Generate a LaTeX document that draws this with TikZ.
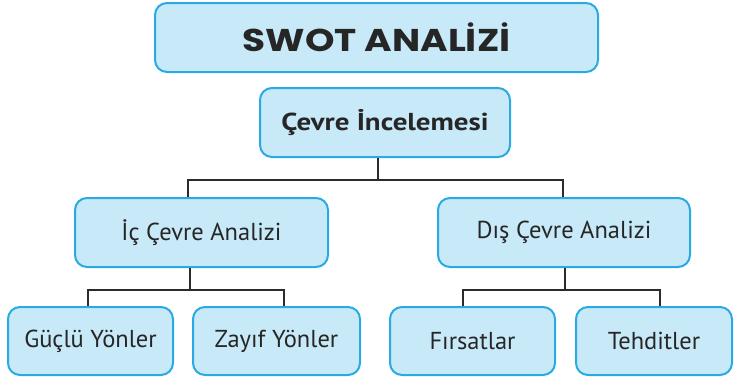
\documentclass[tikz,border=0pt]{standalone}
\usepackage{fontspec}
\setmainfont{PT Sans}
\newfontfamily\titlefont{Poppins}
\definecolor{boxfill}{HTML}{C7E9F8}
\definecolor{boxline}{HTML}{2AAAE2}
\definecolor{linkcol}{HTML}{2B2B2B}
\definecolor{txtcol}{HTML}{262626}
\newcommand{\wide}[2]{\scalebox{#1}[1]{#2}}
\begin{document}
\begin{tikzpicture}[x=1pt,y=-1pt,
  box/.style={draw=boxline, fill=boxfill, line width=2pt, rounded corners=12pt,
    inner sep=0pt, text=txtcol, anchor=center},
  leaf/.style={box, minimum height=68pt, font=\fontsize{24.5}{28}\selectfont},
  link/.style={draw=linkcol, line width=1.8pt}]
\useasboundingbox (0,0) rectangle (734,381);
% boxes
\node[box, minimum width=443pt, minimum height=69pt] (swot) at (376.5,37.5)
  {\wide{1.19}{\titlefont\bfseries\fontsize{31.5}{34}\selectfont SWOT ANAL\.IZ\.I}};
\node[box, minimum width=250pt, minimum height=69pt] (cevre) at (385,122.5)
  {\wide{1.18}{\bfseries\fontsize{24.5}{28}\selectfont Çevre İncelemesi}};
\node[leaf, minimum width=253pt, minimum height=69pt] (ic) at (201.5,232.5)
  {İç Çevre Analizi};
\node[leaf, minimum width=252pt, minimum height=69pt] (dis) at (564,232.5)
  {Dış Çevre Analizi};
\node[leaf, minimum width=165pt] (guclu) at (90.5,341) {Güçlü Yönler};
\node[leaf, minimum width=167pt] (zayif) at (276.5,341) {Zayıf Yönler};
\node[leaf, minimum width=165pt] (firsat) at (472.5,341) {Fırsatlar};
\node[leaf, minimum width=156pt] (tehdit) at (654,341) {Tehditler};
% junction points of the tree
\coordinate (j1) at (378,180);
\coordinate (j2) at (190,290);
\coordinate (j3) at (565,290);
% connectors
\draw[link] (cevre.south -| j1) -- (j1);
\draw[link] ([xshift=-13.5pt]ic.north) |- (j1) -| ([xshift=-1pt]dis.north);
\draw[link] (ic.south -| j2) -- (j2);
\draw[link] ([xshift=-2.5pt]guclu.north) |- (j2) -| ([xshift=7.5pt]zayif.north);
\draw[link] (dis.south -| j3) -- (j3);
\draw[link] ([xshift=-9.5pt]firsat.north) |- (j3) -| ([xshift=6pt]tehdit.north);
\end{tikzpicture}
\end{document}
